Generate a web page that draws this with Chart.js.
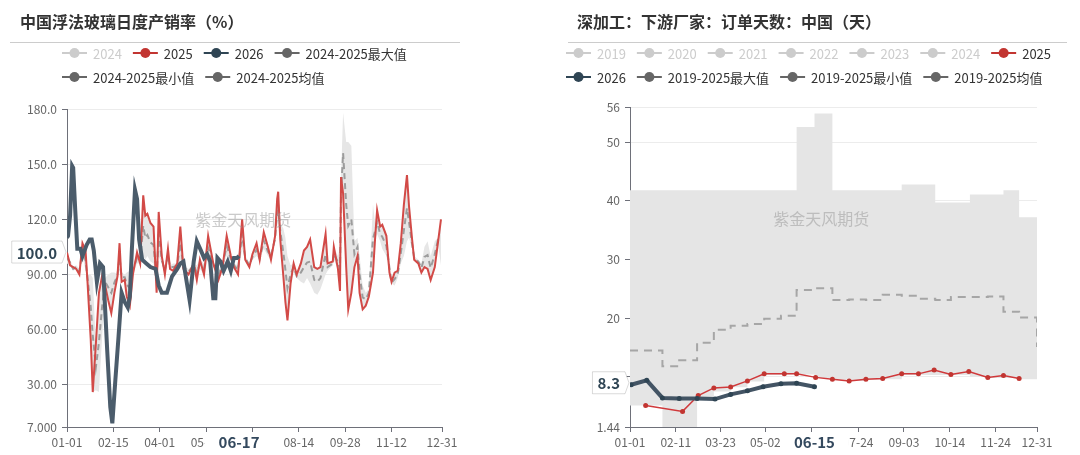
<!DOCTYPE html>
<html>
<head>
<meta charset="utf-8">
<script src="https://cdn.jsdelivr.net/npm/chart.js@4.4.1/dist/chart.umd.min.js"></script>
<style>
  html, body { margin: 0; padding: 0; background: #fff; }
  body { width: 1080px; height: 455px; position: relative; overflow: hidden; }
  .panel { position: absolute; top: 0; height: 455px; }
  #p1 { left: 0; width: 470px; }
  #p2 { left: 555px; width: 525px; }
</style>
</head>
<body>
<div class="panel" id="p1"><canvas id="glassChart"></canvas></div>
<div class="panel" id="p2"><canvas id="orderChart"></canvas></div>
<script>
// ---- left chart: daily float glass production/sales rate (%) ----
const glassXTicks = [0, 45, 90, 135, 180, 225, 270, 315, 364];
const glassXLabels = ['01-01', '02-15', '04-01', '05-16', '06-30', '08-14', '09-28', '11-12', '12-31'];
const glassYTicks = [7, 30, 60, 90, 120, 150, 180];
const glassYLabels = ['7.000', '30.00', '60.00', '90.00', '120.0', '150.0', '180.0'];

const days25 = [
  0, 3, 6, 9, 12, 15, 18, 20, 23, 25,
  28, 31, 34, 37, 40, 43, 46, 49, 51, 53,
  56, 58, 61, 64, 68, 71, 74, 76, 78, 81,
  84, 87, 89, 92, 95, 98, 100, 103, 107, 110,
  113, 118, 123, 126, 129, 133, 137, 142, 147, 151,
  155, 159, 162, 166, 170, 173, 177, 180, 184, 187,
  191, 195, 198, 202, 204, 205, 207, 210, 212, 214,
  217, 220, 223, 227, 230, 233, 236, 240, 243, 246,
  251, 253, 258, 259, 263, 265, 266, 268, 271, 273,
  276, 279, 282, 284, 287, 290, 293, 297, 299, 301,
  304, 306, 310, 313, 315, 318, 321, 324, 327, 330,
  332, 335, 337, 341, 344, 347, 350, 353, 357, 360,
  363
];
const rate2025 = [
  102, 95, 94, 93, 90, 107, 103, 85, 55, 26,
  52, 80, 89, 84, 76, 69, 80, 89, 107, 86,
  87, 78, 73, 90, 102, 96, 133, 122, 123, 118,
  116, 80, 124, 100, 90, 104, 93, 92, 96, 116,
  93, 90, 96, 87, 98, 90, 111, 96, 87, 94,
  111, 100, 94, 90, 120, 98, 94, 101, 107, 98,
  113, 105, 98, 111, 131, 135, 109, 89, 75, 65,
  85, 96, 90, 96, 103, 105, 109, 94, 93, 94,
  112, 96, 97, 105, 93, 81, 143, 134, 94, 71,
  80, 94, 100, 80, 71, 73, 78, 91, 109, 125,
  116, 117, 111, 91, 86, 91, 92, 107, 128, 144,
  127, 109, 98, 96, 91, 94, 93, 87, 94, 107,
  120
];
// 2024 is switched off in the legend but feeds the max / min / mean band
const rate2024 = [
  96, 98, 92, 95, 93, 100, 92, 90, 90, 88,
  27, 26, 55, 88, 90, 91, 91, 90, 92, 91,
  90, 91, 92, 95, 96, 98, 100, 98, 100, 97,
  96, 95, 100, 96, 94, 97, 95, 96, 94, 98,
  95, 93, 94, 95, 93, 96, 98, 95, 93, 96,
  100, 97, 96, 95, 104, 100, 96, 98, 100, 99,
  104, 100, 102, 108, 118, 120, 118, 115, 110, 100,
  95, 92, 88, 86, 85, 88, 85, 80, 79, 82,
  90, 92, 95, 98, 100, 105, 125, 178, 162, 162,
  160, 108, 110, 100, 84, 80, 82, 128, 118, 112,
  108, 104, 100, 96, 85, 84, 88, 96, 100, 108,
  110, 104, 100, 98, 96, 105, 108, 100, 108, 110,
  95
];
const days26 = [
  0, 1, 3, 5, 6, 8, 10, 13, 15, 19,
  22, 24, 26, 29, 32, 35, 39, 42, 44, 47,
  50, 53, 56, 59, 61, 63, 66, 68, 70, 73,
  77, 81, 86, 89, 92, 97, 102, 107, 110, 113,
  117, 119, 123, 126, 130, 133, 136, 139, 142, 144,
  146, 149, 152, 156, 159, 162, 165, 167
];
const rate2026 = [
  110, 111, 122, 149, 148, 125, 104, 104, 100, 106,
  109, 109, 103, 86, 96, 94, 49, 18, 9, 33,
  56, 80, 75, 72, 78, 104, 136, 131, 109, 98,
  96, 94, 93, 84, 80, 80, 89, 93, 96, 97,
  83, 76, 97, 108, 103, 99, 101, 97, 77, 77,
  99, 97, 92, 97, 92, 99, 99, 100
];

// ---- right chart: downstream order days (days) ----
const orderXTicks = [0, 41, 81, 121, 162, 204, 245, 286, 327, 364];
const orderXLabels = ['01-01', '02-11', '03-23', '05-02', '06-12', '07-24', '09-03', '10-14', '11-24', '12-31'];
const orderYTicks = [1.44, 10, 20, 30, 40, 50, 56];
const orderYLabels = ['1.44', '10', '20', '30', '40', '50', '56'];

const bandDays = [0, 15, 29, 44, 60, 75, 90, 105, 120, 135, 149, 165, 181, 196, 211, 226, 243, 257, 273, 287, 304, 320, 334, 348, 364];
const orderMax = [41.8, 41.8, 41.8, 41.8, 41.8, 41.8, 41.8, 41.8, 41.8, 41.8, 52.6, 54.9, 41.8, 41.8, 41.8, 41.8, 42.8, 42.8, 39.7, 39.7, 41.1, 41.1, 41.8, 37.2, 37.2];
const orderMin = [5.1, 5.1, 1.44, 1.44, 6.1, 7.5, 8.2, 9.2, 10.3, 10.4, 10.4, 9.8, 9.5, 9.3, 9.5, 9.6, 10.3, 10.3, 10.3, 10.3, 10.0, 9.8, 9.8, 9.6, 9.6];
const orderAvg = [14.5, 14.5, 11.8, 12.8, 15.8, 18.0, 18.7, 19.0, 19.9, 20.4, 24.8, 25.1, 23.1, 23.2, 23.1, 24.0, 23.8, 23.3, 23.1, 23.6, 23.6, 23.7, 21.1, 20.1, 15.1];
const orderDays25 = [14, 47, 61, 75, 90, 105, 120, 138, 149, 166, 181, 196, 211, 226, 243, 258, 272, 287, 303, 320, 334, 348];
const order2025 = [5.1, 4.1, 6.8, 8.1, 8.25, 9.3, 10.5, 10.5, 10.5, 9.9, 9.6, 9.3, 9.6, 9.7, 10.5, 10.5, 11.15, 10.4, 10.9, 9.9, 10.2, 9.7];
const orderDays26 = [1, 15, 29, 44, 60, 76, 90, 105, 119, 135, 149, 165];
const order2026 = [8.65, 9.4, 6.4, 6.3, 6.3, 6.2, 7.0, 7.6, 8.3, 8.8, 8.9, 8.3];

const RED = '#c23531';
const NAVY = '#2f4554';
const GREY = '#666';
const FONT = '"Noto Sans CJK SC", "Noto Sans", sans-serif';

Chart.defaults.font.family = FONT;
Chart.defaults.animation = false;

function pts(xs, ys) {
  return xs.map((x, i) => ({ x: x, y: ys[i] }));
}

// title, divider and echarts-style legend above the plot
const headerPlugin = {
  id: 'panelHeader',
  afterDraw(chart, args, opts) {
    const ctx = chart.ctx;
    ctx.save();
    ctx.textBaseline = 'middle';
    ctx.textAlign = 'left';
    ctx.font = 'bold 16px ' + FONT;
    ctx.fillStyle = '#333';
    ctx.fillText(opts.title, opts.titleX, 22);

    ctx.strokeStyle = '#ccc';
    ctx.lineWidth = 1;
    ctx.beginPath();
    ctx.moveTo(opts.lineFrom, 42.5);
    ctx.lineTo(opts.lineTo, 42.5);
    ctx.stroke();

    ctx.font = '13px ' + FONT;
    let x = opts.legendX;
    let y = 53;
    opts.items.forEach(it => {
      const w = 31 + ctx.measureText(it.text).width;
      if (x + w > opts.lineTo && x > opts.legendX) {
        x = opts.legendX;
        y += 24;
      }
      const c = it.off ? '#ccc' : it.color;
      ctx.strokeStyle = c;
      ctx.lineWidth = 2;
      ctx.beginPath();
      ctx.moveTo(x, y);
      ctx.lineTo(x + 25, y);
      ctx.stroke();
      ctx.fillStyle = c;
      ctx.beginPath();
      ctx.arc(x + 12.5, y, 5, 0, Math.PI * 2);
      ctx.fill();
      ctx.fillStyle = it.off ? '#ccc' : '#333';
      ctx.fillText(it.text, x + 31, y + 1);
      x += w + 11;
    });
    ctx.restore();
  }
};

// watermark plus the highlighted axis labels
const markPlugin = {
  id: 'axisMarks',
  afterDatasetsDraw(chart) {
    const { ctx, chartArea } = chart;
    ctx.save();
    ctx.font = '16px ' + FONT;
    ctx.fillStyle = 'rgba(150,150,150,0.5)';
    ctx.textAlign = 'center';
    ctx.textBaseline = 'middle';
    ctx.fillText('紫金天风期货', chartArea.left + chartArea.width * 0.47, chartArea.top + chartArea.height * 0.35);
    ctx.restore();
  },
  afterDraw(chart, args, opts) {
    const { ctx, chartArea, scales } = chart;
    ctx.save();
    ctx.textBaseline = 'middle';
    ctx.textAlign = 'center';

    const px = scales.x.getPixelForValue(opts.xValue);
    ctx.font = 'bold 15px ' + FONT;
    const tw = ctx.measureText(opts.xText).width;
    ctx.fillStyle = '#fff';
    ctx.fillRect(px - tw / 2 - 14, chartArea.bottom + 6, tw + 28, 22);
    ctx.fillStyle = '#34495e';
    ctx.fillText(opts.xText, px, chartArea.bottom + 15);

    const py = scales.y.getPixelForValue(opts.yValue) - 4;
    const yw = ctx.measureText(opts.yText).width;
    const right = chartArea.left - 5;
    const left = right - yw - 10;
    ctx.fillStyle = '#fff';
    ctx.strokeStyle = 'rgba(0,0,0,0.15)';
    ctx.lineWidth = 1;
    ctx.beginPath();
    ctx.moveTo(left, py - 11);
    ctx.lineTo(right, py - 11);
    ctx.lineTo(right + 4, py);
    ctx.lineTo(right, py + 11);
    ctx.lineTo(left, py + 11);
    ctx.closePath();
    ctx.fill();
    ctx.stroke();
    ctx.fillStyle = '#2f4554';
    ctx.fillText(opts.yText, (left + right) / 2, py + 1);
    ctx.restore();
  }
};

function axes(xTicks, xLabels, yMin, yMax, yTicks, yLabels, yWidth) {
  return {
    x: {
      type: 'linear',
      min: 0,
      max: 364,
      afterBuildTicks: s => { s.ticks = xTicks.map(v => ({ value: v })); },
      afterFit: s => { s.height = 28; },
      ticks: {
        autoSkip: false,
        maxRotation: 0,
        padding: 3,
        color: '#666',
        font: { size: 12 },
        callback: (v, i) => xLabels[i]
      },
      grid: { drawOnChartArea: false, drawTicks: true, tickLength: 5, tickColor: '#6e7079' },
      border: { color: '#6e7079' }
    },
    y: {
      type: 'linear',
      min: yMin,
      max: yMax,
      afterBuildTicks: s => { s.ticks = yTicks.map(v => ({ value: v })); },
      afterFit: s => { s.width = yWidth; },
      ticks: {
        padding: 5,
        color: '#666',
        font: { size: 12 },
        callback: (v, i) => yLabels[i]
      },
      grid: { color: '#ececec', drawTicks: true, tickLength: 5, tickColor: '#6e7079' },
      border: { color: '#6e7079' }
    }
  };
}

const bandMax = rate2025.map((v, i) => Math.max(v, rate2024[i]));
const bandMin = rate2025.map((v, i) => Math.min(v, rate2024[i]));
const bandAvg = rate2025.map((v, i) => (v + rate2024[i]) / 2);

new Chart(document.getElementById('glassChart'), {
  type: 'line',
  data: {
    datasets: [
      { label: '2026', data: pts(days26, rate2026), borderColor: '#4b5c6b', borderWidth: 4, pointRadius: 0 },
      { label: '2025', data: pts(days25, rate2025), borderColor: '#d24a47', borderWidth: 2, pointRadius: 0 },
      { label: '2024-2025均值', data: pts(days25, bandAvg), borderColor: '#9c9c9c', borderWidth: 2, borderDash: [6, 4], pointRadius: 0 },
      { label: '2024-2025最大值', data: pts(days25, bandMax), borderWidth: 0, pointRadius: 0, fill: '+1', backgroundColor: '#e6e6e6' },
      { label: '2024-2025最小值', data: pts(days25, bandMin), borderWidth: 0, pointRadius: 0 }
    ]
  },
  options: {
    responsive: true,
    maintainAspectRatio: false,
    layout: { padding: { left: 0, right: 28, top: 109, bottom: 0 } },
    elements: { line: { tension: 0 } },
    scales: axes(glassXTicks, glassXLabels, 7, 180, glassYTicks, glassYLabels, 67),
    plugins: {
      legend: { display: false },
      tooltip: { enabled: false },
      panelHeader: {
        title: '中国浮法玻璃日度产销率（%）',
        titleX: 20, lineFrom: 10, lineTo: 460, legendX: 62,
        items: [
          { text: '2024', color: '#ccc', off: true },
          { text: '2025', color: RED },
          { text: '2026', color: NAVY },
          { text: '2024-2025最大值', color: GREY },
          { text: '2024-2025最小值', color: GREY },
          { text: '2024-2025均值', color: GREY }
        ]
      },
      axisMarks: { xValue: 167, xText: '06-17', yValue: 100, yText: '100.0' }
    }
  },
  plugins: [headerPlugin, markPlugin]
});

new Chart(document.getElementById('orderChart'), {
  type: 'line',
  data: {
    datasets: [
      { label: '2026', data: pts(orderDays26, order2026), borderColor: '#435464', borderWidth: 4,
        pointRadius: 2.5, pointBackgroundColor: NAVY, pointBorderWidth: 0 },
      { label: '2025', data: pts(orderDays25, order2025), borderColor: '#d0393b', borderWidth: 1.5,
        pointRadius: 2.5, pointBackgroundColor: RED, pointBorderWidth: 0 },
      { label: '2019-2025均值', data: pts(bandDays, orderAvg), stepped: 'before', borderColor: '#a6a6a6',
        borderWidth: 2, borderDash: [8, 6], pointRadius: 0 },
      { label: '2019-2025最大值', data: pts(bandDays, orderMax), stepped: 'before', borderWidth: 0,
        pointRadius: 0, fill: '+1', backgroundColor: '#e5e5e5' },
      { label: '2019-2025最小值', data: pts(bandDays, orderMin), stepped: 'before', borderWidth: 0, pointRadius: 0 }
    ]
  },
  options: {
    responsive: true,
    maintainAspectRatio: false,
    layout: { padding: { left: 0, right: 43, top: 107, bottom: 0 } },
    elements: { line: { tension: 0 } },
    scales: axes(orderXTicks, orderXLabels, 1.44, 56, orderYTicks, orderYLabels, 75),
    plugins: {
      legend: { display: false },
      tooltip: { enabled: false },
      panelHeader: {
        title: '深加工：下游厂家：订单天数：中国（天）',
        titleX: 22, lineFrom: 13, lineTo: 512, legendX: 11,
        items: [
          { text: '2019', color: '#ccc', off: true },
          { text: '2020', color: '#ccc', off: true },
          { text: '2021', color: '#ccc', off: true },
          { text: '2022', color: '#ccc', off: true },
          { text: '2023', color: '#ccc', off: true },
          { text: '2024', color: '#ccc', off: true },
          { text: '2025', color: RED },
          { text: '2026', color: NAVY },
          { text: '2019-2025最大值', color: GREY },
          { text: '2019-2025最小值', color: GREY },
          { text: '2019-2025均值', color: GREY }
        ]
      },
      axisMarks: { xValue: 165, xText: '06-15', yValue: 8.3, yText: '8.3' }
    }
  },
  plugins: [headerPlugin, markPlugin]
});
</script>
</body>
</html>
